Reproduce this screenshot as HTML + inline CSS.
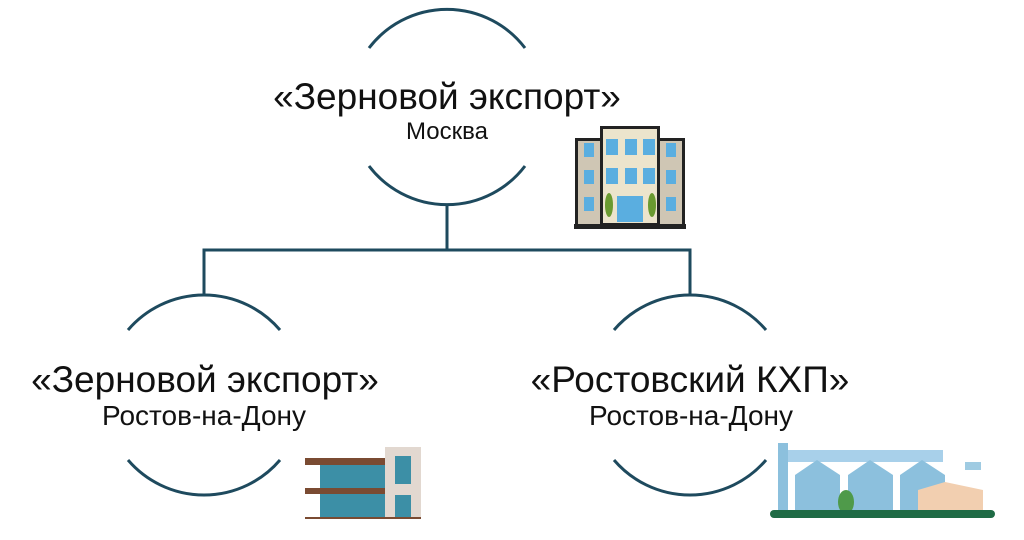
<!DOCTYPE html>
<html><head><meta charset="utf-8"><style>
body{margin:0;width:1024px;height:540px;background:#fff;overflow:hidden;position:relative;font-family:"Liberation Sans",sans-serif;color:#111}
.t{position:absolute;text-align:center;white-space:nowrap;transform:translateX(-50%);line-height:1}
</style></head><body>
<svg width="1024" height="540" style="position:absolute;left:0;top:0" fill="none" stroke="#1e4a5e" stroke-width="3">
<path d="M369 48 A98 98 0 0 1 525 48"/>
<path d="M369 166 A98 98 0 0 0 525 166"/>
<path d="M128 330 A100 100 0 0 1 280 330"/>
<path d="M128 460 A100 100 0 0 0 280 460"/>
<path d="M614 330 A100 100 0 0 1 766 330"/>
<path d="M614 460 A100 100 0 0 0 766 460"/>
<path d="M447 205 V250 M204 295 V250 H690 V295"/>
<g stroke="none">
<rect x="575" y="138" width="110" height="90" fill="#222"/>
<rect x="578" y="141" width="104" height="84" fill="#cfc6b4"/>
<rect x="600" y="126" width="60" height="100" fill="#222"/>
<rect x="603" y="129" width="54" height="94" fill="#ece4cc"/>
<g fill="#5aaee0">
<rect x="584" y="143" width="10" height="14"/><rect x="666" y="143" width="10" height="14"/>
<rect x="584" y="170" width="10" height="14"/><rect x="666" y="170" width="10" height="14"/>
<rect x="584" y="197" width="10" height="14"/><rect x="666" y="197" width="10" height="14"/>
<rect x="606" y="139" width="12" height="16"/><rect x="625" y="139" width="12" height="16"/><rect x="643" y="139" width="12" height="16"/>
<rect x="606" y="168" width="12" height="16"/><rect x="625" y="168" width="12" height="16"/><rect x="643" y="168" width="12" height="16"/>
<rect x="617" y="196" width="26" height="26"/></g>
<ellipse cx="609" cy="205" rx="4" ry="12" fill="#6a9a30"/><ellipse cx="652" cy="205" rx="4" ry="12" fill="#6a9a30"/>
<rect x="574" y="224" width="112" height="5" fill="#222"/>
<rect x="305" y="458" width="80" height="7" fill="#7a4b32"/>
<rect x="320" y="465" width="65" height="23" fill="#3c8fa6"/>
<rect x="305" y="488" width="80" height="6" fill="#7a4b32"/>
<rect x="320" y="494" width="65" height="24" fill="#3c8fa6"/>
<rect x="385" y="447" width="36" height="71" fill="#e2d8d0"/>
<rect x="395" y="456" width="16" height="28" fill="#3c8fa6"/>
<rect x="395" y="495" width="16" height="23" fill="#3c8fa6"/>
<rect x="305" y="517" width="116" height="2" fill="#7a4b32"/>
<rect x="778" y="443" width="10" height="75" fill="#8cc0dd"/>
<rect x="788" y="450" width="155" height="12" fill="#a8d0ea"/>
<path d="M795 475 L817 460 L840 475 V515 H795Z" fill="#8cc0dd"/>
<path d="M848 475 L870 460 L893 475 V515 H848Z" fill="#8cc0dd"/>
<path d="M900 475 L922 460 L945 475 V515 H900Z" fill="#8cc0dd"/>
<ellipse cx="846" cy="502" rx="8" ry="12" fill="#4f9a4a"/>
<path d="M918 490 L945 482 L983 490 V515 H918Z" fill="#f2cfb0"/>
<rect x="965" y="462" width="16" height="8" fill="#9fcbe2"/>
<rect x="770" y="510" width="225" height="8" rx="4" fill="#1f6b45"/>
</g>
</svg>
<div class="t" style="left:447px;top:78px;font-size:37px">«Зерновой экспорт»</div>
<div class="t" style="left:447px;top:120px;font-size:24px">Москва</div>
<div class="t" style="left:205px;top:361px;font-size:37px">«Зерновой экспорт»</div>
<div class="t" style="left:204px;top:402px;font-size:28px">Ростов-на-Дону</div>
<div class="t" style="left:690px;top:361px;font-size:37px">«Ростовский КХП»</div>
<div class="t" style="left:691px;top:402px;font-size:28px">Ростов-на-Дону</div>
</body></html>
